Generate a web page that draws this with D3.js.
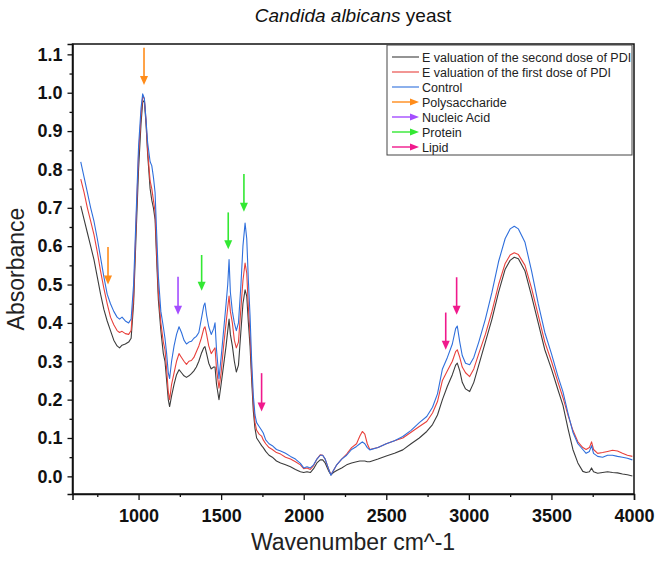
<!DOCTYPE html>
<html>
<head>
<meta charset="utf-8">
<script src="https://cdn.jsdelivr.net/npm/d3@7"></script>
<style>
  body { margin: 0; background: #fff; }
  svg { font-family: "Liberation Sans", Arial, sans-serif; }
</style>
</head>
<body>
<svg id="chart" width="661" height="567"></svg>
<script>
// wavenumber (cm^-1), one row per sample point
const wavenumber = [
  650, 670, 690, 710, 730, 750, 770, 790, 810, 830, 850, 870, 885, 900, 920, 940, 955, 970, 985,
  1000, 1015, 1025, 1035, 1045, 1055, 1070, 1080, 1090, 1100, 1110, 1120, 1135, 1150, 1160, 1170,
  1180, 1188, 1200, 1215, 1230, 1245, 1260, 1275, 1290, 1305, 1320, 1335, 1350, 1365, 1380, 1395,
  1402, 1412, 1425, 1440, 1455, 1463, 1472, 1487, 1500, 1515, 1530, 1540, 1548, 1556, 1568, 1580,
  1592, 1605, 1620, 1632, 1645, 1655, 1665, 1675, 1685, 1695, 1705, 1715, 1730, 1745, 1755, 1770,
  1790, 1810, 1835, 1860, 1890, 1920, 1950, 1980, 2000, 2020, 2040, 2060, 2080, 2100, 2115, 2130,
  2150, 2165, 2180, 2200, 2230, 2260, 2290, 2320, 2340, 2355, 2370, 2385, 2400, 2450, 2500, 2550,
  2600, 2650, 2700, 2745, 2780, 2810, 2840, 2870, 2900, 2920, 2930, 2945, 2960, 2980, 3005, 3030,
  3060, 3100, 3140, 3180, 3220, 3250, 3275, 3300, 3340, 3380, 3420, 3460, 3500, 3540, 3570, 3600,
  3630, 3660, 3690, 3710, 3730, 3743, 3755, 3780, 3810, 3840, 3870, 3900, 3930, 3960, 3990
];

const control = [
  0.82, 0.78, 0.74, 0.70, 0.665, 0.62, 0.57, 0.52, 0.475, 0.45, 0.43, 0.415, 0.41, 0.415, 0.405, 0.40, 0.41, 0.50, 0.68,
  0.86, 0.96, 0.997, 0.985, 0.93, 0.87, 0.82, 0.81, 0.78, 0.74, 0.63, 0.52, 0.43, 0.39, 0.36, 0.32,
  0.27, 0.255, 0.30, 0.34, 0.37, 0.39, 0.375, 0.355, 0.345, 0.35, 0.352, 0.36, 0.365, 0.375, 0.41, 0.445,
  0.452, 0.42, 0.39, 0.37, 0.385, 0.40, 0.33, 0.255, 0.31, 0.38, 0.45, 0.50, 0.565, 0.48, 0.43, 0.40,
  0.38, 0.40, 0.50, 0.60, 0.66, 0.62, 0.51, 0.42, 0.30, 0.21, 0.16, 0.14, 0.13, 0.12, 0.113, 0.095,
  0.085, 0.08, 0.07, 0.066, 0.06, 0.052, 0.045, 0.034, 0.022, 0.025, 0.022, 0.03, 0.045, 0.055, 0.055, 0.045,
  0.02, 0.003, 0.015, 0.03, 0.045, 0.055, 0.07, 0.078, 0.085, 0.09, 0.085, 0.075, 0.069, 0.075, 0.085, 0.093,
  0.104, 0.12, 0.14, 0.156, 0.18, 0.215, 0.28, 0.31, 0.345, 0.385, 0.392, 0.35, 0.315, 0.295, 0.291, 0.31,
  0.35, 0.41, 0.48, 0.56, 0.62, 0.645, 0.652, 0.645, 0.61, 0.535, 0.45, 0.375, 0.32, 0.26, 0.22, 0.165,
  0.115, 0.085, 0.07, 0.06, 0.065, 0.08, 0.06, 0.052, 0.05, 0.055, 0.055, 0.052, 0.05, 0.047, 0.043
];

const firstDose = [
  0.775, 0.74, 0.70, 0.665, 0.63, 0.585, 0.535, 0.49, 0.45, 0.415, 0.395, 0.38, 0.375, 0.378, 0.372, 0.37, 0.38, 0.47, 0.66,
  0.84, 0.94, 0.99, 0.985, 0.93, 0.85, 0.77, 0.75, 0.72, 0.69, 0.58, 0.48, 0.40, 0.35, 0.33, 0.28,
  0.22, 0.20, 0.24, 0.27, 0.30, 0.32, 0.31, 0.30, 0.292, 0.30, 0.302, 0.31, 0.325, 0.34, 0.36, 0.385,
  0.39, 0.37, 0.34, 0.32, 0.33, 0.335, 0.28, 0.23, 0.27, 0.34, 0.40, 0.44, 0.47, 0.43, 0.40, 0.355,
  0.335, 0.35, 0.44, 0.51, 0.556, 0.53, 0.44, 0.37, 0.27, 0.19, 0.14, 0.12, 0.11, 0.105, 0.095, 0.085,
  0.075, 0.07, 0.062, 0.058, 0.05, 0.045, 0.038, 0.03, 0.02, 0.022, 0.018, 0.028, 0.045, 0.056, 0.055, 0.045,
  0.02, 0.004, 0.015, 0.03, 0.045, 0.058, 0.075, 0.085, 0.105, 0.117, 0.11, 0.085, 0.07, 0.075, 0.085, 0.093,
  0.10, 0.115, 0.13, 0.143, 0.165, 0.195, 0.25, 0.275, 0.30, 0.325, 0.33, 0.31, 0.285, 0.27, 0.26, 0.28,
  0.32, 0.37, 0.43, 0.50, 0.555, 0.577, 0.583, 0.578, 0.55, 0.49, 0.42, 0.35, 0.30, 0.245, 0.205, 0.16,
  0.12, 0.09, 0.075, 0.07, 0.075, 0.09, 0.07, 0.06, 0.062, 0.065, 0.068, 0.066, 0.06, 0.055, 0.052
];

const secondDose = [
  0.705, 0.67, 0.635, 0.60, 0.565, 0.52, 0.475, 0.435, 0.405, 0.38, 0.355, 0.34, 0.335, 0.342, 0.345, 0.35, 0.36, 0.45, 0.63,
  0.80, 0.92, 0.975, 0.98, 0.92, 0.84, 0.75, 0.72, 0.70, 0.67, 0.56, 0.46, 0.38, 0.32, 0.30, 0.25,
  0.20, 0.182, 0.21, 0.24, 0.265, 0.278, 0.27, 0.262, 0.258, 0.262, 0.268, 0.275, 0.285, 0.30, 0.32, 0.335,
  0.338, 0.32, 0.295, 0.28, 0.285, 0.285, 0.24, 0.20, 0.24, 0.29, 0.34, 0.38, 0.41, 0.37, 0.34, 0.30,
  0.272, 0.29, 0.38, 0.45, 0.486, 0.47, 0.40, 0.34, 0.25, 0.17, 0.125, 0.10, 0.09, 0.08, 0.075, 0.065,
  0.055, 0.05, 0.04, 0.035, 0.03, 0.025, 0.018, 0.012, 0.01, 0.012, 0.01, 0.02, 0.035, 0.043, 0.043, 0.035,
  0.015, 0.004, 0.01, 0.015, 0.022, 0.03, 0.035, 0.038, 0.04, 0.04, 0.04, 0.038, 0.038, 0.045, 0.053, 0.06,
  0.069, 0.085, 0.10, 0.117, 0.135, 0.16, 0.20, 0.235, 0.265, 0.29, 0.295, 0.275, 0.245, 0.228, 0.221, 0.245,
  0.29, 0.35, 0.41, 0.48, 0.54, 0.563, 0.571, 0.567, 0.535, 0.47, 0.40, 0.33, 0.28, 0.225, 0.185, 0.125,
  0.07, 0.035, 0.013, 0.01, 0.012, 0.022, 0.012, 0.008, 0.01, 0.012, 0.01, 0.009, 0.006, 0.004, 0.001
];

const seriesNames = [
  "E valuation of the second dose of PDI",
  "E valuation of the first dose of PDI",
  "Control"
];
const seriesColors = ["#3c3c3c", "#e8413c", "#2f6fdc"];

// band markers: group, wavenumber, arrow tail value, arrow tip value
const markerGroups = ["Polysaccharide", "Nucleic Acid", "Protein", "Lipid"];
const markerColors = ["#ff8c1a", "#a44dff", "#33e833", "#f0198c"];
const markerGroup = [0, 0, 1, 2, 2, 2, 3, 3, 3];
const markerWave  = [815, 1033, 1239, 1382, 1543, 1638, 1745, 2860, 2926];
const markerTail  = [0.598, 1.117, 0.52, 0.577, 0.688, 0.788, 0.269, 0.427, 0.519];
const markerTip   = [0.50, 1.02, 0.421, 0.484, 0.592, 0.69, 0.169, 0.33, 0.421];

const xTicks = [1000, 1500, 2000, 2500, 3000, 3500, 4000];
const yTicks = [0.0, 0.1, 0.2, 0.3, 0.4, 0.5, 0.6, 0.7, 0.8, 0.9, 1.0, 1.1];

const svg = d3.select("#chart");
const margin = {top: 44, right: 27, bottom: 73, left: 72.5};
const width = 661, height = 567;

const x = d3.scaleLinear().domain([600, 4000]).range([margin.left, width - margin.right]);
const y = d3.scaleLinear().domain([-0.046, 1.127]).range([height - margin.bottom, margin.top]);

svg.append("defs").append("clipPath").attr("id", "plotclip")
  .append("rect")
  .attr("x", margin.left).attr("y", margin.top)
  .attr("width", x.range()[1] - margin.left)
  .attr("height", y.range()[0] - margin.top);

// title
const title = svg.append("text")
  .attr("x", 353).attr("y", 22)
  .attr("text-anchor", "middle")
  .attr("font-size", 19)
  .attr("fill", "#111");
title.append("tspan").attr("font-style", "italic").text("Candida albicans");
title.append("tspan").text(" yeast");

// spectra
const lines = svg.append("g").attr("clip-path", "url(#plotclip)");
const allSeries = [secondDose, firstDose, control];
allSeries.forEach((vals, i) => {
  const line = d3.line()
    .x((d, j) => x(wavenumber[j]))
    .y(d => y(d));
  lines.append("path")
    .datum(vals)
    .attr("fill", "none")
    .attr("stroke", seriesColors[i])
    .attr("stroke-width", 1.1)
    .attr("stroke-linejoin", "round")
    .attr("d", line);
});

// band arrows
function arrowDown(g, cx, y0, y1, color) {
  g.append("line")
    .attr("x1", cx).attr("x2", cx)
    .attr("y1", y0).attr("y2", y1 - 6)
    .attr("stroke", color).attr("stroke-width", 1.6);
  g.append("path")
    .attr("d", `M${cx - 4},${y1 - 9} L${cx + 4},${y1 - 9} L${cx},${y1} Z`)
    .attr("fill", color);
}
const arrows = svg.append("g");
markerWave.forEach((w, i) => {
  arrowDown(arrows, x(w), y(markerTail[i]), y(markerTip[i]), markerColors[markerGroup[i]]);
});

// frame
svg.append("rect")
  .attr("x", margin.left).attr("y", margin.top)
  .attr("width", x.range()[1] - margin.left)
  .attr("height", y.range()[0] - margin.top)
  .attr("fill", "none")
  .attr("stroke", "#111")
  .attr("stroke-width", 1.5);

// axes
const xAxis = svg.append("g")
  .attr("transform", `translate(0,${y.range()[0]})`)
  .call(d3.axisBottom(x).tickValues(xTicks).tickSize(6).tickPadding(9).tickFormat(d3.format("d")));
svg.append("g")
  .attr("transform", `translate(0,${y.range()[0]})`)
  .call(d3.axisBottom(x).tickValues(d3.range(750, 4000, 500)).tickSize(3).tickFormat(""))
  .select(".domain").remove();

const yAxis = svg.append("g")
  .attr("transform", `translate(${margin.left},0)`)
  .call(d3.axisLeft(y).tickValues(yTicks).tickSize(5).tickPadding(5).tickFormat(d3.format(".1f")));
svg.append("g")
  .attr("transform", `translate(${margin.left},0)`)
  .call(d3.axisLeft(y).tickValues(d3.range(0.05, 1.1, 0.1)).tickSize(3).tickFormat(""))
  .select(".domain").remove();

[xAxis, yAxis].forEach(a => {
  a.select(".domain").attr("stroke", "#111").attr("stroke-width", 1.5);
  a.selectAll("text")
    .attr("font-family", "Liberation Sans, Arial, sans-serif")
    .attr("font-size", 18)
    .attr("font-weight", "bold")
    .attr("fill", "#111");
});
svg.selectAll(".tick line").attr("stroke", "#111").attr("stroke-width", 1.3);

// axis titles
svg.append("text")
  .attr("transform", "translate(24,269) rotate(-90)")
  .attr("text-anchor", "middle")
  .attr("font-size", 23)
  .attr("fill", "#222")
  .text("Absorbance");
svg.append("text")
  .attr("x", 353).attr("y", 550)
  .attr("text-anchor", "middle")
  .attr("font-size", 23)
  .attr("fill", "#222")
  .text("Wavenumber cm^-1");

// legend
const legend = svg.append("g").attr("transform", "translate(387,45)");
legend.append("rect")
  .attr("width", 245).attr("height", 110)
  .attr("fill", "#fff")
  .attr("stroke", "#444")
  .attr("stroke-width", 1);
const rowH = 15;
seriesNames.forEach((name, i) => {
  const ry = 12 + i * rowH;
  legend.append("line")
    .attr("x1", 5).attr("x2", 32).attr("y1", ry).attr("y2", ry)
    .attr("stroke", seriesColors[i]).attr("stroke-width", 1.1);
  legend.append("text")
    .attr("x", 35).attr("y", ry + 4.5)
    .attr("font-size", 12.5).attr("fill", "#222")
    .text(name);
});
markerGroups.forEach((name, i) => {
  const ry = 12 + (i + 3) * rowH;
  legend.append("line")
    .attr("x1", 5).attr("x2", 25).attr("y1", ry).attr("y2", ry)
    .attr("stroke", markerColors[i]).attr("stroke-width", 1.4);
  legend.append("path")
    .attr("d", `M23,${ry - 3.5} L23,${ry + 3.5} L32,${ry} Z`)
    .attr("fill", markerColors[i]);
  legend.append("text")
    .attr("x", 35).attr("y", ry + 4.5)
    .attr("font-size", 12.5).attr("fill", "#222")
    .text(name);
});
</script>
</body>
</html>
